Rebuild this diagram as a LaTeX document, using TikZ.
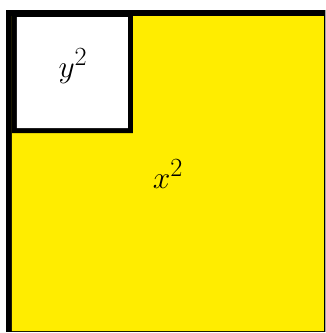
\documentclass[tikz,border=0pt]{standalone}
\usepackage{amsmath, amssymb}
\usepackage{tikz}
\usetikzlibrary{calc}
\usepackage{tkz-euclide}

\begin{document}
\begin{tikzpicture}[scale=0.35]
                \tkzDefPoints{0/0/O, 32.6/33.3/Z}
                \tkzDefPoints{0.6/0.1/A, 32.55/0.1/B, 32.55/32.3/C, 0.6/32.3/D}
                \tkzDefPoints{1.2/0.2/E, 32.4/0.2/F, 32.4/31.7/G, 1.2/31.7/H}
                \tkzDefPoints{1.2/20.0/P, 13.3/20.0/Q, 13.3/31.7/R}
                \tkzDefPoints{1.7/20.5/S, 12.8/20.5/T, 12.8/31.6/U, 1.7/31.6/V}
                \tkzDefPoints{16.8/15.9/M, 7.3/26.7/N}
                \useasboundingbox (O) rectangle (Z);
                \tkzFillPolygon[black](A,B,C,D)
                \tkzFillPolygon[fill={rgb,255:red,255;green,237;blue,0}](E,F,G,H)
                \tkzFillPolygon[black](P,Q,R,H)
                \tkzFillPolygon[white](S,T,U,V)
                \node[font=\Huge, scale=1.26] (sqx) at (M) {$x^2$};
                \node[font=\Huge, scale=1.26] (sqy) at (N) {$y^2$};
            \end{tikzpicture}
\end{document}
